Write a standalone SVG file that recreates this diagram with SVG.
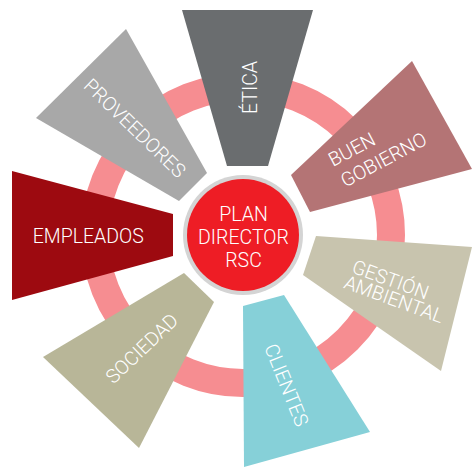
<svg xmlns="http://www.w3.org/2000/svg" width="472" height="468" viewBox="0 0 472 468">
<style>
.t{font-family:Roboto,"Liberation Sans",sans-serif;font-weight:300;font-size:19.5px;fill:#ffffff}
.m{text-anchor:middle}
</style>
<rect width="472" height="468" fill="#ffffff"/>
<g id="connectors">
<circle cx="243" cy="235" r="148" fill="none" stroke="#f68d91" stroke-width="28"/>
</g>
<g id="etica">
<polygon points="182,10 313,10 268,166 227,166" fill="#6a6d6f"/>
<text class="t m" transform="translate(250.3,87.5) rotate(-90)" y="7">ÉTICA</text>
</g>
<g id="proveedores">
<polygon points="126,29 36,118 179,201 207,173" fill="#a8a8a8"/>
<text class="t m" transform="translate(135,128) rotate(44)" y="7">PROVEEDORES</text>
</g>
<g id="empleados">
<polygon points="12,171 173,214 173,256 12,300" fill="#9d0a10"/>
<text class="t m" x="88.3" y="243.3">EMPLEADOS</text>
</g>
<g id="buen-gobierno">
<polygon points="412,61 472,169 310,212 291,175" fill="#b47475"/>
<g transform="translate(333,167) rotate(-28)">
<text class="t" x="0" y="0">BUEN</text>
<text class="t" x="1" y="24">GOBIERNO</text>
</g>
</g>
<g id="gestion-ambiental">
<polygon points="316,236 472,247 441,371 303,275" fill="#c8c4ae"/>
<g transform="translate(350.7,272.3) rotate(20)">
<text class="t" x="0" y="0">GESTIÓN</text>
<text class="t" x="-2.3" y="17.2">AMBIENTAL</text>
</g>
</g>
<g id="clientes">
<polygon points="243,306 284,295 370,432 244,467" fill="#86d0d8"/>
<text class="t m" transform="translate(286.7,385) rotate(68)" y="7">CLIENTES</text>
</g>
<g id="sociedad">
<polygon points="184,273 214,302 139,448 43,357" fill="#b8b698"/>
<text class="t m" transform="translate(141.7,348.3) rotate(-43.5)" y="7">SOCIEDAD</text>
</g>
<g id="plan-director">
<circle cx="243" cy="235" r="60" fill="#d4d4d4"/>
<circle cx="243" cy="235" r="56" fill="#ee1d25"/>
<text class="t m" x="243.5" y="221">PLAN</text>
<text class="t m" x="243.5" y="243.5">DIRECTOR</text>
<text class="t m" x="243.5" y="266.5">RSC</text>
</g>
</svg>
